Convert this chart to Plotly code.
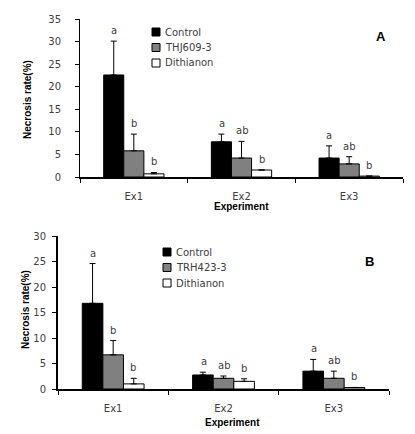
import plotly.graph_objects as go

experiments = ["Ex1", "Ex2", "Ex3"]

# Panel A
a_series = ["Control", "THJ609-3", "Dithianon"]
a_control = [22.6, 7.8, 4.2]
a_control_err = [7.5, 1.7, 2.7]
a_thj = [5.8, 4.2, 2.9]
a_thj_err = [3.7, 3.7, 1.6]
a_dith = [0.7, 1.55, 0.2]
a_dith_err = [0.3, 0.0, 0.0]
a_letters = [["a", "a", "a"], ["b", "ab", "ab"], ["b", "b", "b"]]

# Panel B
b_series = ["Control", "TRH423-3", "Dithianon"]
b_control = [16.8, 2.75, 3.5]
b_control_err = [7.8, 0.55, 2.3]
b_trh = [6.7, 2.1, 2.1]
b_trh_err = [2.8, 0.45, 1.4]
b_dith = [1.0, 1.5, 0.3]
b_dith_err = [1.1, 0.5, 0.0]
b_letters = [["a", "a", "a"], ["b", "ab", "ab"], ["b", "b", "b"]]

colors = ["#000000", "#808080", "#ffffff"]
FONT = "DejaVu Sans"
TXT = "#404040"

# page body has an 8px margin; size figure so the page is 415x434
OFF = 8
W, H = 415 - OFF, 434 - OFF
def px(x):
    return (x - OFF) / W
def py(y):
    return 1 - (y - OFF) / H

fig = go.Figure()

def add_panel(names, vals, errs, letters, xa, ya, leg_x, leg_top):
    for i, (n, v, e) in enumerate(zip(names, vals, errs)):
        fig.add_trace(go.Bar(
            x=experiments, y=v, name=n, xaxis=xa, yaxis=ya, showlegend=False,
            marker=dict(color=colors[i], line=dict(color="#000000", width=1)),
            error_y=dict(type="data", symmetric=False, array=e,
                         arrayminus=[0] * len(e), color="#000000",
                         thickness=1, width=3),
        ))
        for j, cat in enumerate(experiments):
            fig.add_annotation(
                x=cat, y=v[j] + e[j], xref=xa, yref=ya, text=letters[i][j],
                showarrow=False, xanchor="center", yanchor="bottom", yshift=3,
                xshift=(i - 1) * 20, font=dict(family=FONT, size=10, color=TXT))
        # legend entry (key box + label)
        yc = leg_top + i * 15.5
        fig.add_shape(type="rect", xref="paper", yref="paper",
                      x0=px(leg_x), x1=px(leg_x + 8),
                      y0=py(yc + 4), y1=py(yc - 4),
                      fillcolor=colors[i], line=dict(color="#000000", width=1))
        fig.add_annotation(text=n, xref="paper", yref="paper",
                           x=px(leg_x + 11), y=py(yc), xanchor="left",
                           yanchor="middle", showarrow=False,
                           font=dict(family=FONT, size=10, color=TXT))

add_panel(a_series, [a_control, a_thj, a_dith],
          [a_control_err, a_thj_err, a_dith_err], a_letters, "x", "y", 152, 32)
add_panel(b_series, [b_control, b_trh, b_dith],
          [b_control_err, b_trh_err, b_dith_err], b_letters, "x2", "y2", 163, 252)

def axis(lw, **kw):
    d = dict(showline=True, linecolor="#000000", linewidth=lw,
             ticks="outside", ticklen=4, tickcolor="#000000", tickwidth=1,
             showgrid=False, zeroline=False, automargin=False,
             tickfont=dict(family=FONT, size=10, color=TXT))
    d.update(kw)
    return d

fig.update_layout(
    template="none",
    width=W, height=H, margin=dict(l=0, r=0, t=0, b=0, pad=0),
    plot_bgcolor="white", paper_bgcolor="white",
    barmode="group", bargap=0.44, bargroupgap=0,
    showlegend=False,
    xaxis=axis(1.5, domain=[px(80), px(403)], anchor="y", tickson="boundaries",
               ticklabelstandoff=9),
    yaxis=axis(1, domain=[py(177), py(19)], anchor="x", range=[0, 35], dtick=5,
               ticklabelstandoff=12),
    xaxis2=axis(2, domain=[px(58), px(389)], anchor="y2", tickson="boundaries",
                ticklabelstandoff=9),
    yaxis2=axis(2, domain=[py(389), py(236)], anchor="x2", range=[0, 30], dtick=5,
                ticklabelstandoff=4),
)

ann_font_bold = dict(family="Liberation Sans", size=10, color="#000000")
def label(text, x, y, angle=0, font=ann_font_bold):
    fig.add_annotation(text=text, xref="paper", yref="paper", x=px(x), y=py(y),
                       xanchor="center", yanchor="middle", textangle=angle,
                       showarrow=False, font=font)

label("<b>Necrosis rate(%)</b>", 27, 100, -90)
label("<b>Experiment</b>", 241, 206)
label("<b>Necrosis rate(%)</b>", 25, 310, -90)
label("<b>Experiment</b>", 232, 422)
label("<b>A</b>", 381, 37, font=dict(family="Liberation Sans", size=13, color="#000000"))
label("<b>B</b>", 369, 261, font=dict(family="Liberation Sans", size=13, color="#000000"))

fig.write_html("out.html")
